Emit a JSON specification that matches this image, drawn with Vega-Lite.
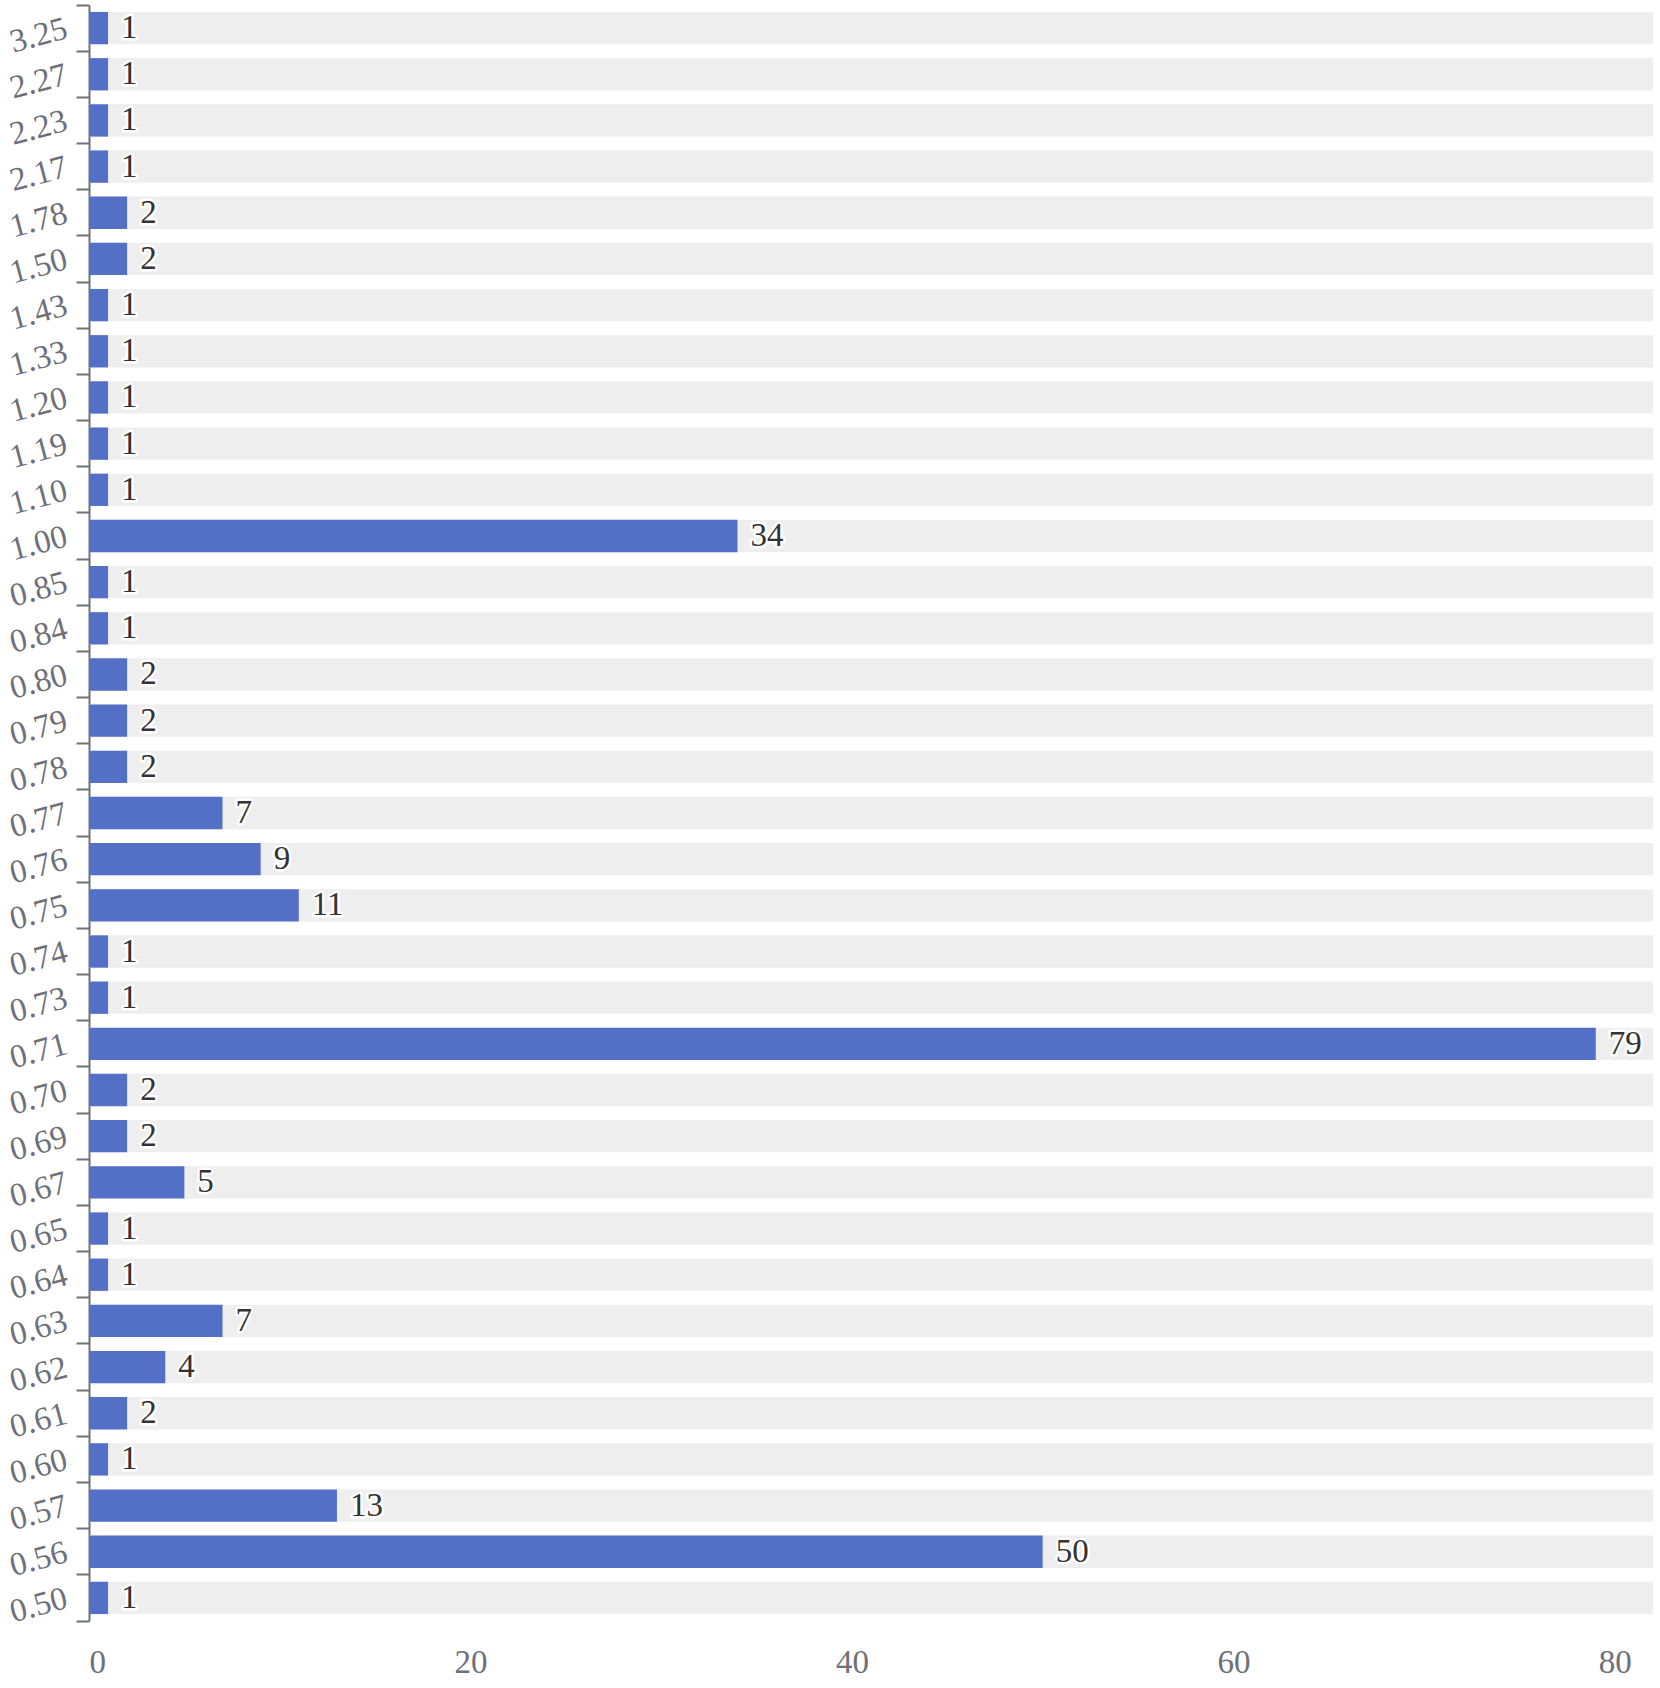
{
  "$schema": "https://vega.github.io/schema/vega-lite/v6.json",
  "width": 1564,
  "height": 1616,
  "autosize": {"type": "none"},
  "padding": {"left": 89, "top": 5, "right": 7, "bottom": 67},
  "background": "white",
  "config": {"view": {"stroke": null}, "font": "Times New Roman, Liberation Serif, serif"},
  "data": {"values": [
    {"ratio": "3.25", "count": 1}, {"ratio": "2.27", "count": 1}, {"ratio": "2.23", "count": 1},
    {"ratio": "2.17", "count": 1}, {"ratio": "1.78", "count": 2}, {"ratio": "1.50", "count": 2},
    {"ratio": "1.43", "count": 1}, {"ratio": "1.33", "count": 1}, {"ratio": "1.20", "count": 1},
    {"ratio": "1.19", "count": 1}, {"ratio": "1.10", "count": 1}, {"ratio": "1.00", "count": 34},
    {"ratio": "0.85", "count": 1}, {"ratio": "0.84", "count": 1}, {"ratio": "0.80", "count": 2},
    {"ratio": "0.79", "count": 2}, {"ratio": "0.78", "count": 2}, {"ratio": "0.77", "count": 7},
    {"ratio": "0.76", "count": 9}, {"ratio": "0.75", "count": 11}, {"ratio": "0.74", "count": 1},
    {"ratio": "0.73", "count": 1}, {"ratio": "0.71", "count": 79}, {"ratio": "0.70", "count": 2},
    {"ratio": "0.69", "count": 2}, {"ratio": "0.67", "count": 5}, {"ratio": "0.65", "count": 1},
    {"ratio": "0.64", "count": 1}, {"ratio": "0.63", "count": 7}, {"ratio": "0.62", "count": 4},
    {"ratio": "0.61", "count": 2}, {"ratio": "0.60", "count": 1}, {"ratio": "0.57", "count": 13},
    {"ratio": "0.56", "count": 50}, {"ratio": "0.50", "count": 1}
  ]},
  "encoding": {
    "y": {
      "field": "ratio", "type": "nominal", "sort": "descending",
      "scale": {"paddingInner": 0, "paddingOuter": 0},
      "axis": {
        "title": null, "bandPosition": 1, "tickExtra": true,
        "labelAngle": -15, "labelAlign": "right", "labelBaseline": "middle",
        "labelFont": "Times New Roman, Liberation Serif, serif", "labelFontSize": 33, "labelColor": "#6E7079",
        "labelPadding": 10, "tickSize": 13, "tickWidth": 2, "tickColor": "#6E7079",
        "domainColor": "#6E7079", "domainWidth": 2, "grid": false
      }
    }
  },
  "layer": [
    {
      "mark": {"type": "bar", "color": "#eeeeee", "height": {"band": 0.7}},
      "encoding": {"x": {"value": 0}, "x2": {"value": "width"}}
    },
    {
      "mark": {"type": "bar", "color": "#5470c6", "height": {"band": 0.7}},
      "encoding": {
        "x": {
          "field": "count", "type": "quantitative",
          "scale": {"domain": [0, 82], "nice": false, "zero": true},
          "axis": {
            "title": null, "values": [0, 20, 40, 60, 80], "domain": false, "ticks": false, "tickSize": 0,
            "grid": false, "labelFont": "Times New Roman, Liberation Serif, serif", "labelFontSize": 33, "labelColor": "#6E7079",
            "labelPadding": 25, "labelBaseline": "top"
          }
        }
      }
    },
    {
      "mark": {"type": "text", "align": "left", "baseline": "middle", "dx": 13, "fontSize": 33,
               "font": "Times New Roman, Liberation Serif, serif", "stroke": "white", "strokeWidth": 5, "strokeJoin": "round", "fill": "white"},
      "encoding": {"x": {"field": "count", "type": "quantitative"}, "text": {"field": "count", "type": "quantitative"}}
    },
    {
      "mark": {"type": "text", "align": "left", "baseline": "middle", "dx": 13, "fontSize": 33,
               "font": "Times New Roman, Liberation Serif, serif", "color": "#333333"},
      "encoding": {"x": {"field": "count", "type": "quantitative"}, "text": {"field": "count", "type": "quantitative"}}
    }
  ]
}
